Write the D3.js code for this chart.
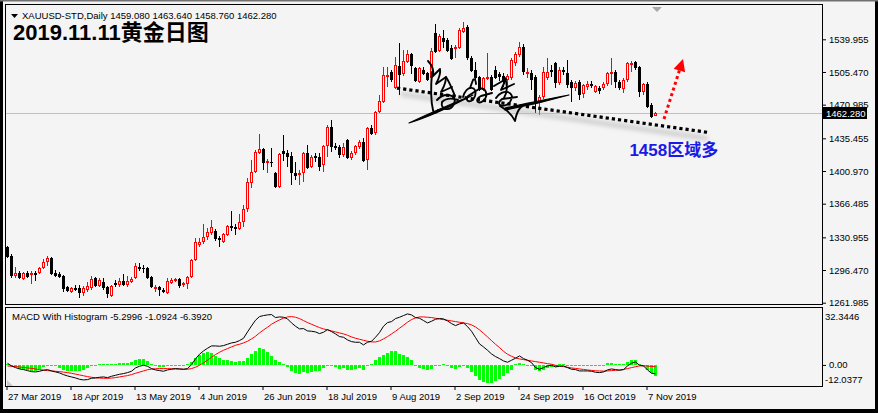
<!DOCTYPE html>
<html><head><meta charset="utf-8">
<script src="https://cdn.jsdelivr.net/npm/d3@7/dist/d3.min.js"></script>
<style>html,body{margin:0;padding:0;background:#f4f4f4;overflow:hidden}svg{display:block}</style>
</head><body>
<svg id="c" width="878" height="413"></svg>
<script>
// ---------- DATA ----------
const openP = [1320.7,1311.2,1290.1,1293.3,1287.0,1293.3,1291.2,1293.3,1293.3,1298.6,1304.9,1309.1,1293.3,1292.2,1290.1,1278.5,1273.2,1277.5,1277.5,1272.2,
1275.4,1277.5,1288.0,1279.6,1283.8,1278.5,1269.0,1282.7,1280.6,1284.9,1280.6,1283.8,1288.0,1299.6,1298.6,1298.6,1289.1,1276.4,1278.5,1275.4,
1272.2,1282.7,1284.9,1287.0,1280.6,1281.7,1289.1,1307.0,1322.9,1326.0,1331.3,1335.5,1337.6,1330.2,1326.0,1333.4,1342.9,1342.0,1339.7,1347.1,
1360.8,1388.3,1399.9,1419.9,1424.2,1409.4,1410.4,1398.8,1384.1,1422.1,1419.9,1416.8,1398.8,1396.7,1398.8,1419.9,1405.2,1416.8,1415.7,1407.3,
1427.3,1447.4,1427.3,1426.3,1417.8,1433.7,1414.7,1419.9,1426.3,1431.5,1412.6,1446.3,1441.0,1463.2,1473.8,1500.1,1505.4,1488.5,1511.7,1503.3,
1516.0,1524.4,1509.6,1494.9,1507.5,1504.4,1499.1,1546.6,1527.6,1541.3,1539.2,1530.7,1529.7,1530.7,1547.6,1552.9,1520.2,1507.5,1500.1,1486.4,
1498.0,1500.1,1507.5,1503.3,1501.0,1497.5,1499.1,1515.0,1523.4,1531.8,1503.3,1504.4,1500.1,1473.8,1479.0,1499.1,1507.5,1514.9,1493.8,1507.5,
1504.4,1494.9,1488.5,1494.9,1482.2,1489.6,1492.7,1484.3,1488.5,1488.5,1492.7,1503.3,1505.4,1494.9,1487.5,1497.0,1512.8,1516.0,1510.7,1484.3,
1492.7,1470.6,1459.08];
const highP = [1322.0,1313.3,1299.6,1295.4,1294.4,1295.4,1295.4,1295.4,1299.6,1308.1,1311.2,1310.1,1296.5,1294.4,1291.2,1279.6,1278.5,1280.6,1280.6,1279.6,
1283.8,1290.1,1289.1,1288.0,1288.0,1279.6,1280.6,1285.9,1288.0,1292.2,1290.1,1289.1,1303.9,1303.9,1301.8,1299.6,1290.1,1280.6,1279.6,1277.5,
1288.0,1288.0,1288.0,1288.0,1283.8,1290.1,1308.1,1330.2,1330.2,1345.0,1340.8,1349.2,1339.7,1332.3,1335.5,1343.9,1358.7,1345.0,1355.5,1365.1,
1393.5,1412.6,1423.1,1440.0,1425.2,1413.6,1425.2,1399.9,1419.9,1438.9,1423.1,1421.0,1410.4,1402.0,1421.0,1428.4,1417.8,1419.9,1419.9,1428.4,
1449.5,1454.8,1430.5,1428.4,1430.5,1434.7,1422.1,1428.4,1433.7,1435.8,1447.4,1449.5,1464.2,1481.1,1510.7,1510.7,1507.5,1521.2,1536.0,1528.6,
1528.6,1525.5,1510.7,1510.7,1510.7,1505.4,1530.7,1556.1,1545.4,1549.7,1541.3,1533.9,1533.9,1551.9,1558.2,1555.0,1522.3,1516.0,1501.2,1500.1,
1525.5,1502.3,1511.7,1505.4,1504.0,1503.0,1520.0,1527.0,1537.0,1535.5,1509.6,1507.5,1502.3,1481.1,1510.7,1520.2,1512.8,1516.0,1510.7,1510.7,
1518.1,1497.0,1495.9,1497.0,1492.7,1495.9,1495.9,1491.7,1490.6,1494.9,1505.4,1520.2,1507.5,1497.0,1499.1,1516.0,1517.0,1517.0,1511.7,1493.8,
1494.9,1472.7,1463.64];
const lowP = [1309.1,1288.0,1288.0,1287.0,1285.9,1288.0,1281.7,1284.9,1292.2,1297.5,1300.7,1291.2,1289.1,1288.0,1273.2,1273.2,1272.2,1274.3,1266.9,1269.0,
1273.2,1275.4,1278.5,1278.5,1275.4,1266.9,1268.0,1278.5,1278.5,1279.6,1278.5,1282.7,1287.0,1295.4,1293.3,1287.0,1277.5,1273.2,1269.0,1272.2,
1271.1,1281.7,1283.8,1277.5,1278.5,1276.4,1288.0,1306.0,1320.7,1323.9,1328.1,1333.4,1327.1,1320.7,1324.9,1332.3,1337.6,1333.4,1338.7,1341.8,
1357.7,1383.0,1398.8,1418.9,1402.0,1398.8,1405.2,1383.0,1383.0,1411.5,1405.2,1386.2,1391.4,1386.2,1389.3,1403.1,1404.1,1410.4,1400.9,1399.9,
1415.7,1421.0,1423.1,1414.7,1415.7,1413.6,1412.6,1417.8,1424.2,1410.4,1402.0,1438.9,1438.9,1462.2,1472.7,1489.6,1494.9,1488.0,1481.1,1501.2,
1514.9,1503.3,1494.9,1493.8,1502.3,1495.9,1497.0,1525.5,1526.5,1530.7,1526.5,1518.1,1520.2,1529.7,1546.6,1518.1,1505.4,1497.0,1485.4,1485.4,
1497.0,1485.4,1498.0,1496.0,1490.0,1492.0,1497.0,1512.0,1521.0,1502.3,1499.1,1486.4,1462.2,1460.0,1477.0,1497.0,1500.1,1488.5,1491.7,1502.3,
1488.5,1473.8,1485.4,1475.9,1477.5,1486.4,1488.5,1483.2,1482.2,1486.4,1490.6,1491.7,1488.5,1486.4,1483.2,1494.9,1505.4,1507.5,1479.0,1481.1,
1467.4,1456.9,1458.76];
const closeP = [1310.5,1290.1,1293.3,1288.0,1293.3,1289.1,1293.3,1291.2,1298.6,1304.9,1309.1,1292.2,1290.1,1289.1,1276.4,1274.3,1277.5,1275.4,1272.2,1277.5,
1279.6,1287.0,1279.6,1285.9,1277.5,1271.1,1279.6,1280.6,1284.9,1280.6,1284.9,1287.0,1300.7,1297.5,1297.5,1288.0,1278.5,1278.5,1275.4,1273.2,
1284.9,1285.9,1287.0,1279.6,1282.7,1289.1,1307.0,1326.0,1326.0,1331.3,1336.6,1341.8,1329.2,1328.1,1334.5,1342.9,1340.8,1339.7,1347.1,1360.8,
1389.3,1399.9,1421.0,1424.2,1409.4,1411.5,1409.4,1384.1,1418.9,1418.9,1415.7,1398.8,1395.7,1398.8,1419.9,1404.1,1415.7,1414.7,1405.2,1427.3,
1447.4,1426.3,1425.2,1417.8,1426.3,1414.7,1419.9,1427.3,1431.5,1411.5,1446.3,1440.0,1463.2,1474.8,1502.3,1502.3,1497.0,1512.8,1502.3,1517.0,
1524.4,1511.7,1495.9,1509.6,1503.3,1497.0,1527.6,1526.5,1543.4,1537.1,1527.6,1519.1,1531.8,1549.7,1551.9,1520.2,1506.0,1499.1,1486.4,1499.1,
1500.1,1486.4,1499.1,1500.1,1495.0,1501.0,1518.1,1524.4,1531.8,1505.4,1505.4,1497.0,1473.8,1479.0,1505.4,1505.4,1505.4,1493.8,1507.5,1505.4,
1491.7,1488.5,1493.8,1481.1,1491.7,1492.7,1490.6,1490.6,1485.4,1492.7,1504.4,1505.4,1494.9,1488.5,1497.0,1514.9,1514.9,1509.6,1484.3,1492.7,
1468.5,1457.9,1462.28];

const macdMain = [1.0,-0.6,-1.6,-2.4,-2.8,-3.4,-4.0,-4.2,-3.8,-3.2,-2.8,-3.6,-4.2,-4.8,-5.8,-6.6,-7.2,-7.8,-8.6,-9.0,
-8.8,-8.0,-7.8,-7.4,-7.2,-7.6,-6.8,-6.2,-5.6,-5.2,-4.6,-3.8,-1.8,-0.8,-0.2,-0.8,-2.2,-3.0,-3.4,-3.8,
-3.0,-2.6,-2.2,-2.4,-2.6,-2.2,0.2,3.6,6.4,8.4,10.0,11.4,11.4,11.2,11.6,12.4,13.2,13.6,14.6,16.0,
19.8,23.4,26.8,29.0,29.6,30.0,30.2,28.4,28.8,28.6,27.6,25.2,23.2,21.6,21.8,20.4,20.2,19.8,18.8,19.6,
21.2,20.0,18.6,17.0,16.6,15.0,14.0,13.6,13.6,12.0,13.6,14.2,16.6,19.4,23.2,25.4,26.0,27.8,28.6,29.6,
30.6,30.0,28.4,28.0,26.6,25.2,26.2,27.4,27.8,27.6,26.4,24.8,23.6,24.6,25.2,23.0,20.2,16.4,12.6,10.8,
8.8,6.6,5.0,3.8,2.4,1.6,2.8,4.0,5.4,3.8,2.8,1.4,-1.6,-2.6,-1.6,-0.6,-0.2,-1.2,-0.8,-0.6,
-1.6,-2.6,-2.8,-3.6,-3.6,-3.6,-3.8,-4.4,-4.6,-4.2,-3.0,-2.4,-2.8,-3.2,-2.8,-0.6,1.0,1.8,-0.2,-0.6,
-3.0,-5.0,-5.2996];
const macdSignal = [-0.6,-0.8,-1.0,-1.2,-1.5,-1.8,-2.1,-2.4,-2.8,-3.1,-3.4,-3.6,-3.8,-4.0,-4.3,-4.6,-5.0,-5.5,-6.0,-6.5,
-7.0,-7.4,-7.7,-7.9,-8.0,-8.0,-7.9,-7.6,-7.2,-6.8,-6.4,-5.8,-5.0,-4.3,-3.6,-2.9,-2.5,-2.3,-2.2,-2.2,
-2.2,-2.3,-2.4,-2.5,-2.6,-2.6,-2.2,-1.4,-0.2,1.2,2.8,4.6,6.2,7.6,8.8,9.8,10.8,11.8,12.4,13.2,
14.2,15.6,17.2,19.2,21.0,22.6,24.4,25.8,27.0,28.0,28.8,29.0,28.6,27.8,26.6,25.4,24.4,23.4,22.4,21.6,
21.0,20.4,19.8,19.2,18.6,17.8,16.8,16.0,15.4,14.8,14.2,13.8,13.8,14.4,15.6,17.0,18.6,20.2,22.0,23.8,
25.6,27.2,28.2,28.8,28.8,28.6,28.4,28.0,27.6,27.2,26.8,26.4,26.0,25.6,25.2,24.8,24.0,22.8,21.0,19.0,
16.8,14.6,12.4,10.4,8.2,6.4,5.2,4.2,3.6,3.2,2.8,2.4,2.0,1.6,1.2,0.8,0.4,-0.2,-0.6,-1.0,
-1.4,-1.8,-2.1,-2.4,-2.7,-3.0,-3.3,-3.5,-3.6,-3.7,-3.6,-3.4,-3.2,-3.0,-2.7,-2.2,-1.6,-1.1,-0.6,-0.5,
-0.7,-0.9,-1.0924];
const macdHist = [0.4,-0.4,-1.0,-2.4,-2.8,-3.2,-3.6,-3.4,-2.2,-1.2,-0.6,-0.8,-0.8,-1.6,-3.0,-3.4,-3.6,-3.6,-3.8,-3.2,
-1.8,-0.6,-0.2,0.4,0.6,0.4,0.6,0.8,1.0,1.0,1.4,2.0,3.0,3.4,3.4,2.6,0.6,-0.6,-1.0,-1.2,
-0.6,-0.2,0.2,0.1,-0.2,0.4,1.8,4.0,6.0,7.2,7.6,7.0,5.6,4.0,3.2,2.8,2.4,2.0,2.2,2.6,
4.4,6.4,8.6,10.0,9.6,8.0,5.6,3.0,1.8,0.6,-1.2,-3.6,-5.0,-5.6,-4.4,-4.8,-4.0,-3.6,-3.6,-2.0,
0.2,-0.4,-1.2,-2.2,-2.0,-2.8,-2.8,-2.4,-1.8,-2.8,-0.6,0.4,2.8,5.0,6.0,7.4,8.4,8.2,6.8,5.8,
5.0,2.8,-0.6,-1.6,-2.6,-3.2,-2.2,-0.8,0.2,0.4,-0.4,-1.6,-2.4,-1.0,-0.2,-1.8,-4.0,-6.8,-9.0,-10.4,
-10.8,-10.6,-9.6,-8.2,-6.4,-5.0,-2.8,0.4,1.2,0.8,0.2,-0.6,-3.0,-3.8,-2.8,-1.8,-1.2,-1.4,0.4,0.4,
0.2,-0.4,-0.4,-0.6,-0.4,-0.2,-0.2,-0.4,-0.6,-0.2,1.0,1.4,0.8,0.4,0.6,2.0,3.0,3.2,0.6,-0.6,
-2.8,-5.0,-6.392];

const priceTicks = [1539.955,1505.470,1470.985,1435.455,1400.970,1366.485,1330.955,1296.470,1261.985];
const macdLabels = [32.3446, 0, -12.0377];
const dateTickDates = ["2019-03-27","2019-04-18","2019-05-13","2019-06-04","2019-06-26","2019-07-18","2019-08-09","2019-09-02","2019-09-24","2019-10-16","2019-11-07"];
const dateTickLabels = ["27 Mar 2019","18 Apr 2019","13 May 2019","4 Jun 2019","26 Jun 2019","18 Jul 2019","9 Aug 2019","2 Sep 2019","24 Sep 2019","16 Oct 2019","7 Nov 2019"];
const marketHolidays = ["2019-04-19"];
const lastQuote = {o:1459.080, h:1463.640, l:1458.760, c:1462.280};
// annotations (bar index, price)
const trendLine = [{bar:97.5, price:1488.5},{bar:175.25, price:1441.7}];
const upArrow = [{bar:164.25, price:1455.8},{bar:169.0, price:1519.1}];
const noteText = {bar:155.6, price:1422.5, text:"1458区域多"};

// ---------- BUILD ----------
const N = closeP.length;
const dates = [];
for (let t = Date.UTC(2019,2,27); dates.length < N; t += 864e5) {
  const d = new Date(t), wd = d.getUTCDay(), s = d.toISOString().slice(0,10);
  if (wd===0 || wd===6 || marketHolidays.includes(s)) continue;
  dates.push(s);
}
const bars = dates.map((d,i)=>({d, i, o:openP[i], h:highP[i], l:lowP[i], c:closeP[i], m:macdMain[i], s:macdSignal[i], hi:macdHist[i]}));

const BG = "#f4f4f4";
const FONT = "'Liberation Sans', Arial, sans-serif";
const fx = (v,n) => v.toFixed(n);   // plain hyphen minus, like the terminal
const svg = d3.select("#c");
svg.append("rect").attr("width",878).attr("height",413).attr("fill",BG);

const x = d3.scaleBand().domain(dates).range([5, 5 + 4*N]).paddingInner(0).paddingOuter(0);
const cx = d => x(d) + 2;
const xi = d3.scaleLinear().domain([0, N-1]).range([cx(dates[0]), cx(dates[N-1])]);
const y = d3.scaleLinear().domain([1261.985, 1539.955]).range([302.7, 39.3]);
const ym = d3.scaleLinear().domain([-12.0377, 32.3446]).range([385, 311]);

const defs = svg.append("defs");
defs.append("clipPath").attr("id","cm").append("rect").attr("x",6).attr("y",5).attr("width",816).attr("height",299);
defs.append("clipPath").attr("id","cd").append("rect").attr("x",6).attr("y",308).attr("width",816).attr("height",78);
defs.append("filter").attr("id","blur").attr("x","-10%").attr("y","-50%").attr("width","120%").attr("height","200%")
  .append("feGaussianBlur").attr("stdDeviation",2);

// ---- main window ----
const gm = svg.append("g").attr("clip-path","url(#cm)");
gm.append("line").attr("x1",6).attr("x2",822)
  .attr("y1",Math.round(y(lastQuote.c))+0.5).attr("y2",Math.round(y(lastQuote.c))+0.5)
  .attr("stroke","#c0c0c0").attr("stroke-width",1);

const cg = gm.append("g");
bars.forEach(b=>{
  const X = cx(b.d);
  const up = b.c >= b.o;
  const col = up ? "#ff0000" : "#000000";
  const yh = Math.round(y(b.h)), yl = Math.round(y(b.l));
  const top = Math.round(y(Math.max(b.o,b.c))), bot = Math.round(y(Math.min(b.o,b.c)));
  cg.append("line").attr("x1",X+0.5).attr("x2",X+0.5).attr("y1",yh).attr("y2",Math.max(yl,yh+1))
    .attr("stroke",col).attr("stroke-width",1);
  if (!up) {
    cg.append("rect").attr("x",X-1).attr("y",top).attr("width",3).attr("height",Math.max(1,bot-top)).attr("fill","#000");
  } else if (bot - top < 2) {
    cg.append("rect").attr("x",X-1).attr("y",top).attr("width",3).attr("height",Math.max(1,bot-top)).attr("fill",col);
  } else {
    cg.append("rect").attr("x",X-0.5).attr("y",top+0.5).attr("width",2).attr("height",bot-top-1)
      .attr("fill",BG).attr("stroke",col).attr("stroke-width",1);
  }
});

// trend line with shadow
const tl = trendLine.map(p=>[xi(p.bar), y(p.price)]);
gm.append("line").attr("x1",tl[0][0]+4).attr("y1",tl[0][1]+6).attr("x2",tl[1][0]).attr("y2",tl[1][1]+6)
  .attr("stroke","#b4b4b4").attr("stroke-width",5).attr("opacity",0.55).attr("filter","url(#blur)");
gm.append("line").attr("x1",tl[0][0]).attr("y1",tl[0][1]).attr("x2",tl[1][0]).attr("y2",tl[1][1])
  .attr("stroke","#000").attr("stroke-width",3.2).attr("stroke-dasharray","3.2 3");

// signature (decorative hand-written mark)
const sig = gm.append("g").attr("fill","none").attr("stroke","#000").attr("stroke-width",1.9)
  .attr("stroke-linecap","round").attr("stroke-linejoin","round");
[
 "M428,61 C432,65 434,70 433,76 L440,69 C441,75 438,80 436,84 L446,77 C446,84 443,88 441,92 L452,87",
 "M432,72 C431,84 430,98 433,110 C434,114 437,113 438,110",
 "M437,100 C444,92 458,94 454,104 C450,112 440,110 442,102 C446,98 452,98 458,100",
 "M446,77 C450,83 452,89 455,96",
 "M463,97 C467,84 478,86 475,96 C472,104 464,102 468,96 L479,89 C486,86 489,96 483,101 C478,105 474,100 481,96 L492,93",
 "M470,88 L473,80 C474,78 476,80 476,84",
 "M494,86 L506,79 L501,90 L514,84",
 "M496,98 C502,88 517,91 510,102 C504,109 494,105 502,99 L517,97",
 "M500,106 C507,110 512,114 515,121 C516,115 518,110 521,107",
 "M505,78 C508,86 507,93 504,98"
].forEach(d=>sig.append("path").attr("d",d));
sig.append("path").attr("d","M409,123 C430,113 451,104 473,95 C454,105 432,116 409,123 Z").attr("fill","#000").attr("stroke-width",1.2);
sig.append("path").attr("d","M505,108 C525,104 546,99 569,95 C548,101 527,106 505,110 Z").attr("fill","#000").attr("stroke-width",1.2);

// red dotted arrow
const ar = upArrow.map(p=>[xi(p.bar), y(p.price)]);
const dx = ar[1][0]-ar[0][0], dy = ar[1][1]-ar[0][1], len = Math.hypot(dx,dy), ux = dx/len, uy = dy/len;
const headL = 12, headW = 6;
const bx = ar[1][0]-ux*headL, by = ar[1][1]-uy*headL;
gm.append("line").attr("x1",ar[0][0]).attr("y1",ar[0][1]).attr("x2",bx).attr("y2",by)
  .attr("stroke","#ff0000").attr("stroke-width",3).attr("stroke-dasharray","3 3");
gm.append("path").attr("d",`M${ar[1][0]},${ar[1][1]} L${bx-uy*headW},${by+ux*headW} L${bx+uy*headW},${by-ux*headW} Z`).attr("fill","#ff0000");

// blue note
gm.append("text").attr("x",xi(noteText.bar)).attr("y",y(noteText.price)+5)
  .attr("font-family","'Liberation Sans','Noto Sans CJK SC',sans-serif").attr("font-weight","bold")
  .attr("font-size",17).attr("fill","#1a1ae6").text(noteText.text);

// shift marker
svg.append("path").attr("d","M652,7 L662,7 L657,12 Z").attr("fill","#a8a8a8");

// ---- MACD window ----
const gd = svg.append("g").attr("clip-path","url(#cd)");
const y0 = Math.round(ym(0));
bars.forEach(b=>{
  const X = cx(b.d), yv = Math.round(ym(b.hi));
  const t = Math.min(y0,yv), h = Math.max(1, Math.abs(yv-y0));
  gd.append("rect").attr("x",X-1).attr("y",t).attr("width",3).attr("height",h).attr("fill","#00ff00");
});
const lineGen = key => d3.line().x(b=>cx(b.d)+0.5).y(b=>ym(b[key]))(bars);
gd.append("path").attr("d",lineGen("s")).attr("fill","none").attr("stroke","#ff0000").attr("stroke-width",1);
gd.append("path").attr("d",lineGen("m")).attr("fill","none").attr("stroke","#000").attr("stroke-width",1);

// ---- frames ----
svg.append("rect").attr("x",5.5).attr("y",4.5).attr("width",817).attr("height",300).attr("fill","none").attr("stroke","#000");
svg.append("rect").attr("x",5.5).attr("y",307.5).attr("width",817).attr("height",79).attr("fill","none").attr("stroke","#000");

// ---- axes ----
const pa = svg.append("g").attr("transform","translate(822,0)")
  .call(d3.axisRight(y).tickValues(priceTicks).tickSize(4).tickPadding(3).tickFormat(v=>fx(v,3)));
pa.select(".domain").remove();
pa.selectAll("line").attr("stroke","#000");
pa.selectAll("text").attr("font-family",FONT).attr("font-size",9.5).attr("fill","#000");

// current price box
const yc = Math.round(y(lastQuote.c));
svg.append("rect").attr("x",823).attr("y",yc-6).attr("width",44).attr("height",12).attr("fill","#000");
svg.append("text").attr("x",826).attr("y",yc+3.5).attr("font-family",FONT).attr("font-size",9.5).attr("fill","#fff")
  .text(fx(lastQuote.c,3));

// MACD scale labels
const ma = svg.append("g").attr("transform","translate(822,0)")
  .call(d3.axisRight(ym).tickValues(macdLabels).tickSize(4).tickPadding(3)
    .tickFormat(v => v===0 ? "0.00" : fx(v,4)));
ma.select(".domain").remove();
ma.selectAll("line").attr("stroke", v => v===0 ? "#000" : "none");
ma.selectAll("text").attr("font-family",FONT).attr("font-size",9.5).attr("fill","#000")
  .attr("x", v => v===0 ? 7 : 3)
  .attr("dy", v => v===0 ? "0.32em" : (v>0 ? "0.85em" : "-0.3em"));

// date axis
const da = svg.append("g").attr("transform","translate(0,386)")
  .call(d3.axisBottom(x).tickValues(dateTickDates).tickSize(4).tickPadding(3)
    .tickFormat(d => dateTickLabels[dateTickDates.indexOf(d)]));
da.select(".domain").remove();
da.selectAll("line").attr("stroke","#000").attr("x1",0).attr("x2",0);
da.selectAll("text").attr("font-family",FONT).attr("font-size",9.5).attr("fill","#000")
  .attr("text-anchor","start").attr("x",1);

// ---- header texts ----
svg.append("path").attr("d","M11,14 L18,14 L14.5,18 Z").attr("fill","#000");
svg.append("text").attr("x",22).attr("y",19).attr("font-family",FONT).attr("font-size",9.5).attr("fill","#000")
  .text("XAUUSD-STD,Daily  " + [lastQuote.o,lastQuote.h,lastQuote.l,lastQuote.c].map(v=>fx(v,3)).join(" "));
svg.append("text").attr("x",13).attr("y",40).attr("font-family","'Liberation Sans','Noto Sans CJK SC',sans-serif")
  .attr("font-weight","bold").attr("font-size",22).attr("fill","#000").text("2019.11.11黄金日图");
svg.append("text").attr("x",12).attr("y",320).attr("font-family",FONT).attr("font-size",9.5).attr("fill","#000")
  .text("MACD With Histogram " + [macdMain[N-1], macdSignal[N-1], macdHist[N-1]].map(v=>fx(v,4)).join(" "));
svg.append("path").attr("d","M7,380 L7,386 L13,386 Z").attr("fill","#c8c8c8");

// ---- outer border ----
svg.append("rect").attr("x",0).attr("y",0).attr("width",3).attr("height",413).attr("fill","#000");
svg.append("rect").attr("x",875).attr("y",0).attr("width",3).attr("height",413).attr("fill","#000");
svg.append("rect").attr("x",0).attr("y",409).attr("width",878).attr("height",4).attr("fill","#000");
svg.append("rect").attr("x",0).attr("y",0).attr("width",878).attr("height",1.5).attr("fill","#707070");
</script>
</body></html>
